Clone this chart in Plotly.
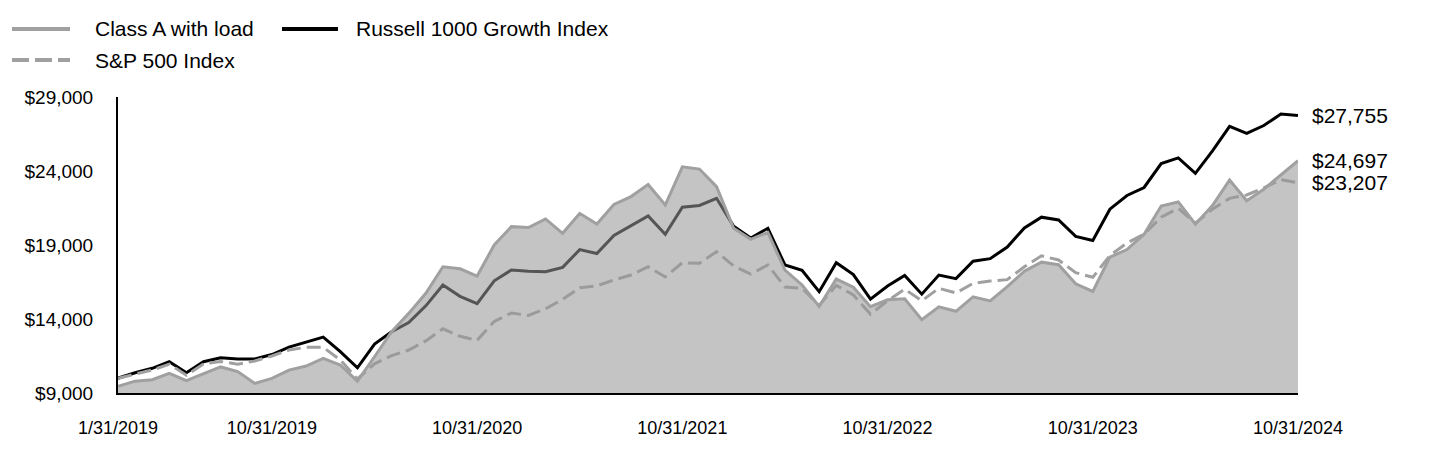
import plotly.graph_objects as go
import pandas as pd

try:
    _rng = pd.date_range("2019-01-31", "2024-10-31", freq="ME")
except Exception:
    _rng = pd.date_range("2019-01-31", "2024-10-31", freq="M")
months = [f"{d.month}/{d.day}/{d.year}" for d in _rng]

tick_labels = ["1/31/2019", "10/31/2019", "10/31/2020", "10/31/2021",
               "10/31/2022", "10/31/2023", "10/31/2024"]
y_ticks = [9000, 14000, 19000, 24000, 29000]

class_a = [9450, 9800, 9900, 10330, 9830, 10310, 10760, 10450, 9650, 9990,
           10550, 10820, 11340, 10890, 9800, 11450, 13140, 14380, 15740, 17530,
           17390, 16900, 19000, 20240, 20180, 20760, 19790, 21140, 20420, 21740,
           22270, 23080, 21700, 24280, 24130, 22940, 20130, 19385, 19850, 17300,
           16300, 14850, 16700, 16150, 14830, 15300, 15360, 13950, 14820, 14520,
           15500, 15220, 16190, 17230, 17840, 17670, 16380, 15860, 18180, 18690,
           19730, 21635, 21910, 20400, 21670, 23390, 21990, 22770, 23730, 24697]

russell = [10000, 10370, 10670, 11115, 10370, 11115, 11385, 11300, 11300, 11600,
           12100, 12450, 12780, 11800, 10700, 12300, 13140, 13760, 14890, 16300,
           15530, 15040, 16580, 17310, 17220, 17200, 17490, 18690, 18420, 19640,
           20320, 20960, 19730, 21550, 21670, 22155, 20260, 19470, 20130, 17650,
           17290, 15845, 17800, 17000, 15340, 16230, 16940, 15680, 16970, 16730,
           17900, 18080, 18860, 20150, 20880, 20690, 19585, 19310, 21420, 22345,
           22886, 24500, 24890, 23840, 25360, 27020, 26546, 27075, 27852, 27755]

sp500 = [10000, 10250, 10550, 10950, 10200, 10970, 11130, 10950, 11160, 11500,
         11905, 12090, 12090, 11230, 9950, 10970, 11530, 11905, 12520, 13340,
         12830, 12560, 13840, 14405, 14240, 14690, 15330, 16110, 16240, 16636,
         16973, 17534, 16840, 17804, 17761, 18548, 17590, 17030, 17649, 16165,
         16074, 14922, 16276, 15622, 14330, 15230, 16017, 15230, 16074, 15757,
         16412, 16568, 16660, 17534, 18267, 17987, 17129, 16816, 18290, 19140,
         19730, 20880, 21477, 20470, 21420, 22150, 22379, 22864, 23415, 23207]

names = ["Class A with load", "Russell 1000 Growth Index", "S&P 500 Index"]

FONT = "Arial, Liberation Sans, Helvetica, sans-serif"
W, H = 1440, 468
L, R, T, B = 118, 142, 97, 75
PW, PH = W - L - R, H - T - B

def px_x(px):
    return (px - L) / PW

def px_y(py):
    return (H - B - py) / PH

fig = go.Figure()
fig.add_trace(go.Scatter(x=months, y=russell, mode="lines", name=names[1],
                         line=dict(color="#000000", width=3), showlegend=False))
fig.add_trace(go.Scatter(x=months, y=sp500, mode="lines", name=names[2],
                         line=dict(color="#a0a0a0", width=3, dash="14px,6px"),
                         showlegend=False))
fig.add_trace(go.Scatter(x=months, y=class_a, mode="lines", name=names[0],
                         line=dict(color="#a0a0a0", width=3),
                         fill="tozeroy", fillcolor="rgba(150,150,150,0.565)",
                         showlegend=False))

# End-value labels
for series in (russell, class_a, sp500):
    fig.add_annotation(x=months[-1], y=series[-1], text=f"${series[-1]:,}",
                       showarrow=False, xanchor="left", yanchor="middle",
                       xshift=12, font=dict(family=FONT, size=21, color="#000000"))

# Custom legend
legend_items = [
    (names[0], dict(color="#a0a0a0", width=4), 12, 70, 93, 29),
    (names[1], dict(color="#000000", width=4), 282, 338, 354, 29),
    (names[2], dict(color="#a0a0a0", width=4, dash="17px,6px"), 12, 70, 93, 60),
]
for label, ln, x0, x1, xt, yy in legend_items:
    fig.add_shape(type="line", xref="paper", yref="paper",
                  x0=px_x(x0), x1=px_x(x1), y0=px_y(yy), y1=px_y(yy), line=ln)
    fig.add_annotation(xref="paper", yref="paper", x=px_x(xt), y=px_y(yy),
                       text=label, showarrow=False, xanchor="left", yanchor="middle",
                       font=dict(family=FONT, size=21, color="#000000"))

fig.update_layout(
    width=W, height=H,
    margin=dict(l=L, r=R, t=T, b=B, pad=0),
    paper_bgcolor="white", plot_bgcolor="white",
    showlegend=False,
    font=dict(family=FONT, size=18, color="#000000"),
    xaxis=dict(type="category", range=[0, len(months) - 1],
               tickmode="array", tickvals=tick_labels, ticktext=tick_labels,
               showgrid=False, zeroline=False, showline=True,
               linecolor="#000000", linewidth=2, ticks="",
               ticklabelstandoff=17, tickfont=dict(size=18)),
    yaxis=dict(range=[9000, 29000], tickmode="array", tickvals=y_ticks,
               tickformat="$,.0f", showgrid=False, zeroline=False,
               showline=True, linecolor="#000000", linewidth=2, ticks="",
               ticklabelstandoff=19, tickfont=dict(size=19)),
)

fig.write_html("out.html")
